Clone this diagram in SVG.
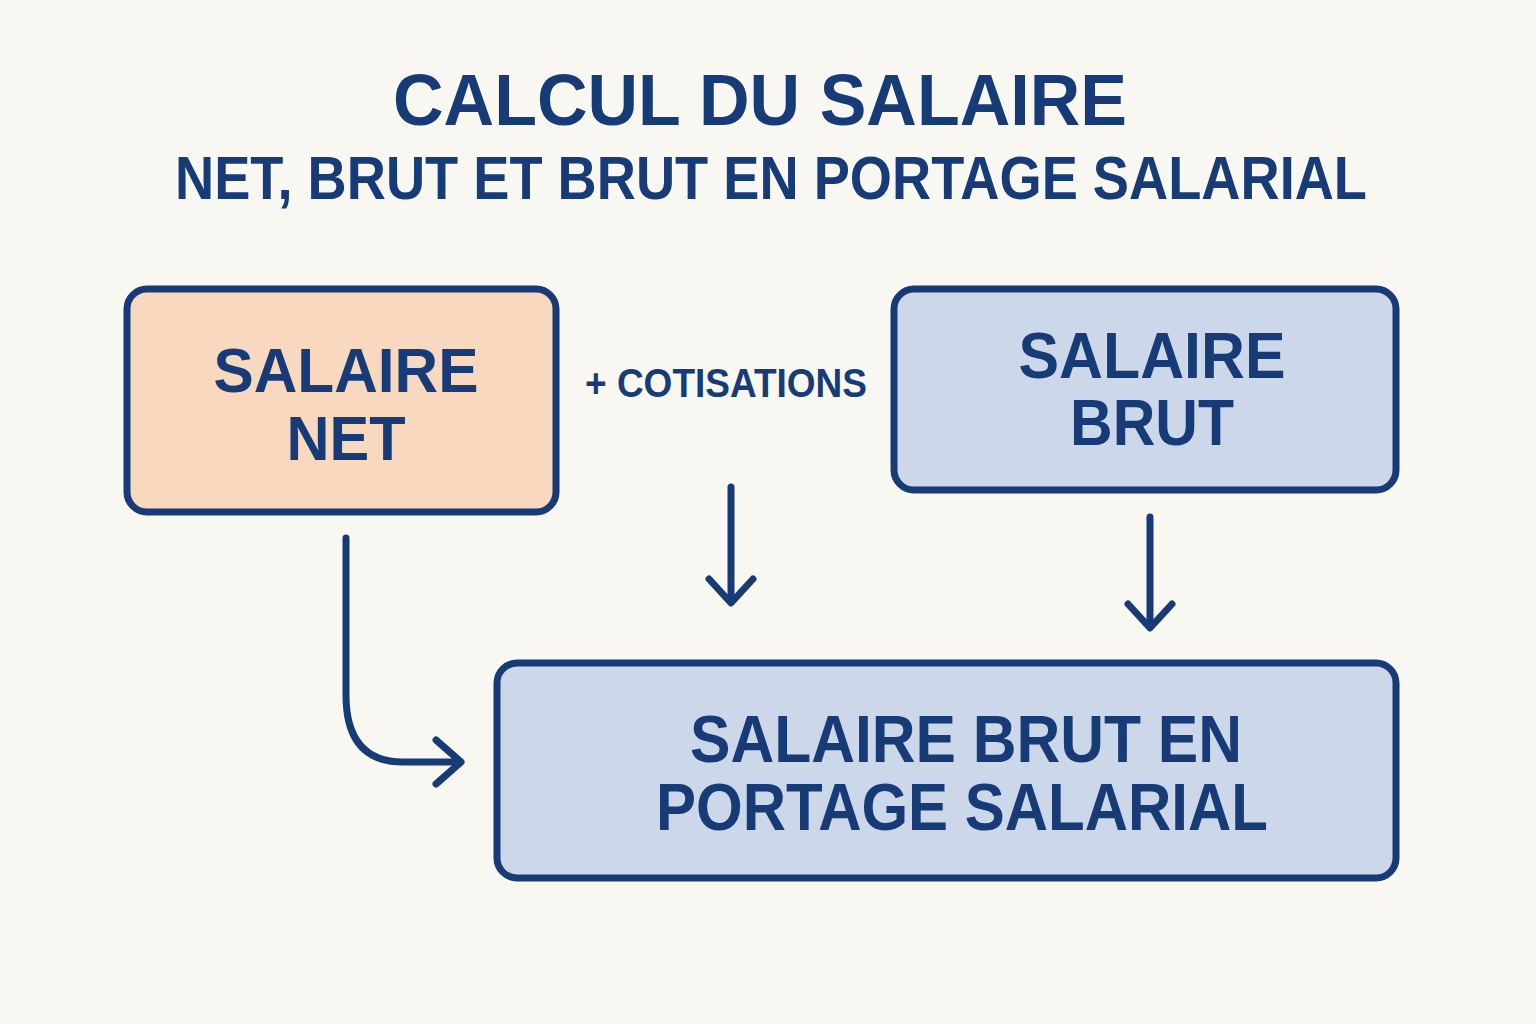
<svg xmlns="http://www.w3.org/2000/svg" width="1536" height="1024" viewBox="0 0 1536 1024">
  <defs>
    <style>
      .t { font-family: "Liberation Sans", Arial, sans-serif; font-weight: bold; fill: #173B76; text-anchor: middle; }
      .box { stroke: #173B76; stroke-width: 7; }
      .peach { fill: #F8D8BE; }
      .blue { fill: #CCD8E9; }
      .conn { fill: none; stroke: #173B76; stroke-width: 7; stroke-linecap: round; stroke-linejoin: round; }
    </style>
  </defs>
  <rect x="0" y="0" width="1536" height="1024" fill="#F9F7F2"/>

  <g id="title">
    <text class="t" x="760" y="125" font-size="73" textLength="734" lengthAdjust="spacingAndGlyphs">CALCUL DU SALAIRE</text>
    <text class="t" x="771" y="199" font-size="61" textLength="1192" lengthAdjust="spacingAndGlyphs">NET, BRUT ET BRUT EN PORTAGE SALARIAL</text>
  </g>

  <g id="node-net">
    <rect class="box peach" x="127" y="289" width="429" height="223" rx="20"/>
    <text class="t" x="346" y="392" font-size="63" textLength="265" lengthAdjust="spacingAndGlyphs">SALAIRE</text>
    <text class="t" x="346" y="460" font-size="63" textLength="119" lengthAdjust="spacingAndGlyphs">NET</text>
  </g>

  <g id="node-brut">
    <rect class="box blue" x="894" y="289" width="502" height="201" rx="20"/>
    <text class="t" x="1152" y="378" font-size="65" textLength="267" lengthAdjust="spacingAndGlyphs">SALAIRE</text>
    <text class="t" x="1152" y="445" font-size="65" textLength="164" lengthAdjust="spacingAndGlyphs">BRUT</text>
  </g>

  <g id="node-portage">
    <rect class="box blue" x="497" y="663" width="899" height="215" rx="20"/>
    <text class="t" x="966" y="762" font-size="66" textLength="552" lengthAdjust="spacingAndGlyphs">SALAIRE BRUT EN</text>
    <text class="t" x="962" y="830" font-size="66" textLength="612" lengthAdjust="spacingAndGlyphs">PORTAGE SALARIAL</text>
  </g>

  <g id="label-cotisations">
    <text class="t" x="726" y="397" font-size="40" textLength="282" lengthAdjust="spacingAndGlyphs">+ COTISATIONS</text>
  </g>

  <g id="connectors">
    <path class="conn" d="M346 538 V695 Q346 762 403 762 H460"/>
    <path class="conn" d="M436 740 L461 762 L436 784"/>
    <path class="conn" d="M731 487 V602"/>
    <path class="conn" d="M709 579 L731 603 L753 579"/>
    <path class="conn" d="M1150 517 V627"/>
    <path class="conn" d="M1128 604 L1150 628 L1172 604"/>
  </g>
</svg>
